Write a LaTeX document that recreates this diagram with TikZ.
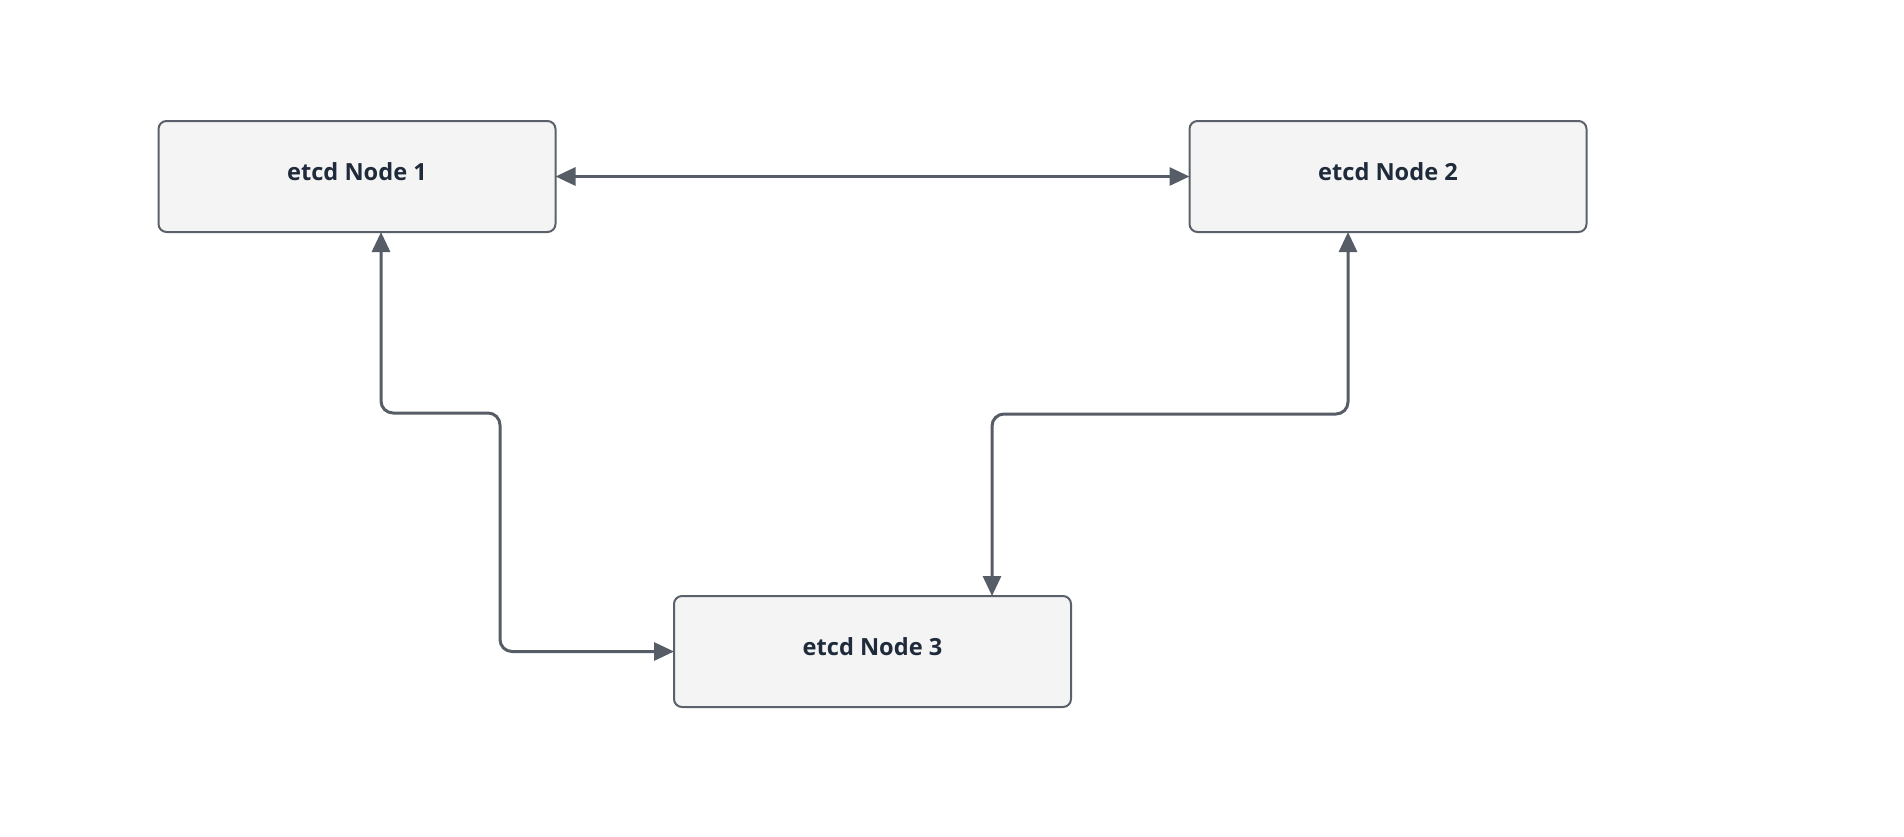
\documentclass[tikz,border=0pt]{standalone}
\usepackage{fontspec}
\setmainfont{Open Sans}
\usetikzlibrary{arrows.meta}
\definecolor{linec}{HTML}{575D67}
\definecolor{boxc}{HTML}{5B616B}
\definecolor{fillc}{HTML}{F4F4F5}
\definecolor{textc}{HTML}{1F2A3A}
\tikzset{
  etcdbox/.style={draw=boxc, line width=1pt, fill=fillc, rounded corners=4pt,
    minimum width=198.5pt, minimum height=55.5pt, inner sep=0pt, outer sep=0pt,
    text height=8pt, text depth=4pt,
    font=\fontsize{11.8pt}{14pt}\selectfont\bfseries, text=textc},
  conn/.style={draw=linec, line width=1.5pt, rounded corners=6pt,
    {Triangle[length=10pt,width=9pt]}-{Triangle[length=10pt,width=9pt]}}
}
\begin{document}
\begin{tikzpicture}[x=0.5pt,y=-0.5pt]
\useasboundingbox (0,0) rectangle (1904,836);
\node[etcdbox] (n1) at (357,176.5) {etcd Node 1};
\node[etcdbox] (n2) at (1388,176.5) {etcd Node 2};
\node[etcdbox] (n3) at (872.5,651.5) {etcd Node 3};
\coordinate (c1) at (381,413);
\coordinate (c2) at (500,413);
\coordinate (c3) at (1348,414);
\coordinate (c4) at (992,414);
\draw[conn] (n1.east) -- (n2.west);
\draw[conn] (c1 |- n1.south) -- (c1) -- (c2) -- (c2 |- n3.west) -- (n3.west);
\draw[conn] (c3 |- n2.south) -- (c3) -- (c4) -- (c4 |- n3.north);
\end{tikzpicture}
\end{document}
